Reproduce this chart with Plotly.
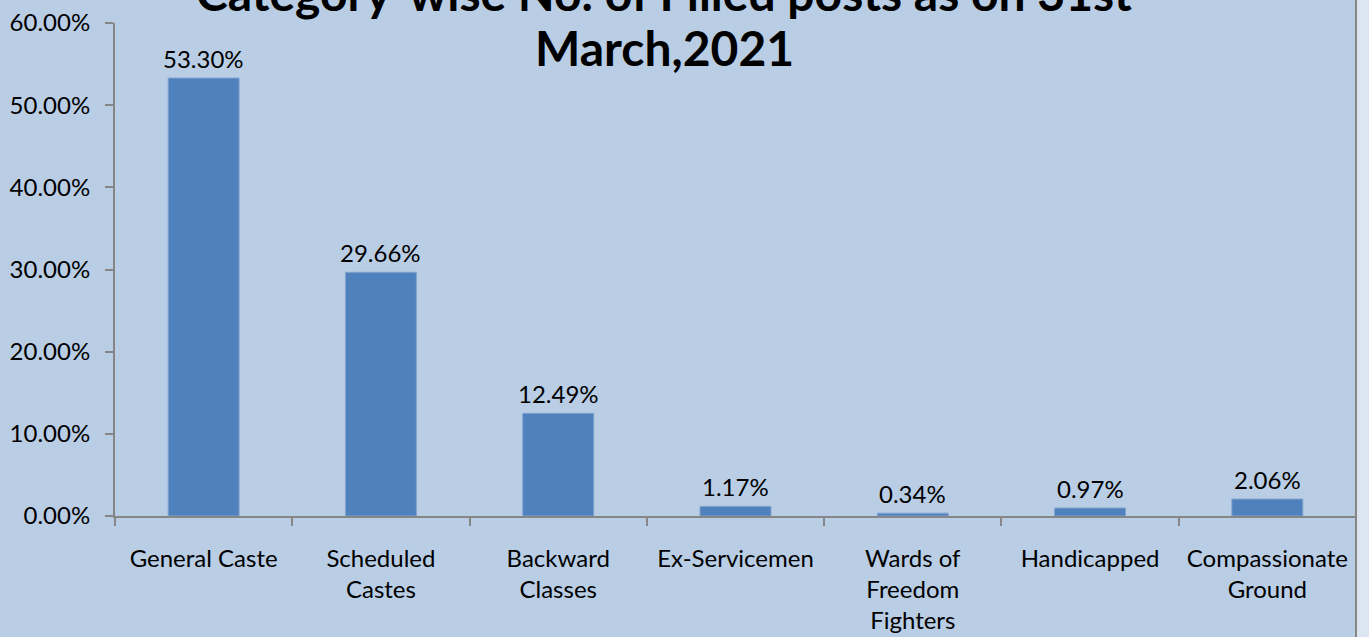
import plotly.graph_objects as go

categories = ["General Caste", "Scheduled<br>Castes", "Backward<br>Classes", "Ex-Servicemen",
              "Wards of<br>Freedom<br>Fighters", "Handicapped", "Compassionate<br>Ground"]
values = [53.30, 29.66, 12.49, 1.17, 0.34, 0.97, 2.06]
value_labels = ["53.30%", "29.66%", "12.49%", "1.17%", "0.34%", "0.97%", "2.06%"]
y_ticks = [0, 10, 20, 30, 40, 50, 60]
y_tick_labels = ["0.00%", "10.00%", "20.00%", "30.00%", "40.00%", "50.00%", "60.00%"]
title_lines = ["Category-wise No. of Filled posts as on 31st", "March,2021"]

FONT = "Lato"
BG = "#B9CDE5"
AXIS = "#868686"

fig = go.Figure()
fig.add_trace(go.Bar(
    x=categories, y=values,
    marker=dict(color="#4F81BD", line=dict(color="#7FA2CF", width=1)),
    width=0.4, hoverinfo="x+y",
))

for c, v, t in zip(categories, values, value_labels):
    fig.add_annotation(x=c, y=v, text=t, showarrow=False, yanchor="bottom", yshift=3,
                       font=dict(family=FONT, size=24, color="black"))

fig.update_layout(
    width=1369, height=637,
    margin=dict(l=115, r=13, t=23, b=121),
    paper_bgcolor=BG, plot_bgcolor=BG,
    showlegend=False,
    font=dict(family=FONT, size=24, color="black"),
    xaxis=dict(
        type="category", showline=True, linecolor=AXIS, linewidth=2,
        ticks="outside", tickson="boundaries", ticklen=8, tickcolor=AXIS, tickwidth=2,
        tickfont=dict(family=FONT, size=24, color="black"),
        showgrid=False, ticklabelstandoff=20, automargin=False,
    ),
    yaxis=dict(
        range=[0, 60], tickvals=y_ticks, ticktext=y_tick_labels,
        showline=True, linecolor=AXIS, linewidth=2,
        ticks="outside", ticklen=8, tickcolor=AXIS, tickwidth=2,
        tickfont=dict(family=FONT, size=24, color="black"),
        showgrid=False, zeroline=False, ticklabelstandoff=10, automargin=False,
    ),
)

fig.add_annotation(text="<b>" + title_lines[0] + "</b>", xref="paper", yref="paper",
                   x=0.4424, y=1.061, showarrow=False, yanchor="middle",
                   font=dict(family=FONT, size=48, color="black"))
fig.add_annotation(text="<b>" + title_lines[1] + "</b>", xref="paper", yref="paper",
                   x=0.4424, y=0.951, showarrow=False, yanchor="middle",
                   font=dict(family=FONT, size=48, color="black"))

fig.add_shape(type="rect", xref="paper", yref="paper", x0=1.0, x1=1.05, y0=-0.5, y1=1.5,
              fillcolor="#DCE6F2", line=dict(width=0), layer="above")
fig.add_shape(type="line", xref="paper", yref="paper", x0=1.0, x1=1.0, y0=-0.5, y1=1.5,
              line=dict(color=AXIS, width=2), layer="above")

fig.write_html("out.html", config={"displayModeBar": False},
               post_script="document.body.style.margin='0px';document.body.style.background='" + BG + "';")
